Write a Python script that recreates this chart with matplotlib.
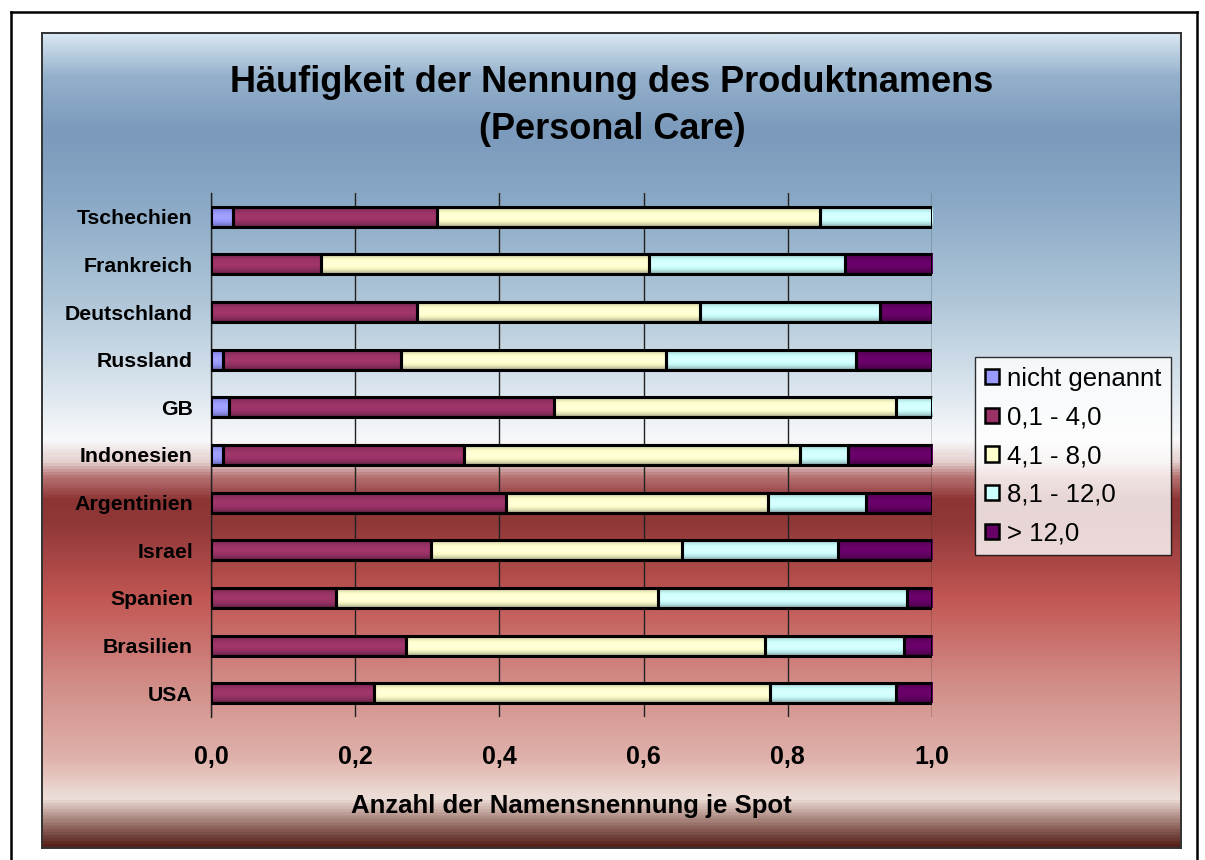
import numpy as np
import matplotlib
matplotlib.use("Agg")
import matplotlib.pyplot as plt
from matplotlib.colors import LinearSegmentedColormap, to_rgb
from matplotlib.lines import Line2D
from matplotlib.patches import Rectangle

plt.rcParams['font.family'] = ['Liberation Sans', 'DejaVu Sans']

countries = ["Tschechien", "Frankreich", "Deutschland", "Russland", "GB", "Indonesien",
             "Argentinien", "Israel", "Spanien", "Brasilien", "USA"]
series_names = ["nicht genannt", "0,1 - 4,0", "4,1 - 8,0", "8,1 - 12,0", "> 12,0"]
nicht_genannt = [0.031, 0.0, 0.0, 0.017, 0.025, 0.017, 0.0, 0.0, 0.0, 0.0, 0.0]
s_01_40 = [0.282, 0.152, 0.286, 0.247, 0.451, 0.334, 0.409, 0.305, 0.173, 0.270, 0.226]
s_41_80 = [0.531, 0.455, 0.392, 0.367, 0.474, 0.466, 0.364, 0.348, 0.447, 0.499, 0.549]
s_81_120 = [0.156, 0.272, 0.250, 0.264, 0.050, 0.066, 0.136, 0.216, 0.345, 0.192, 0.175]
s_gt_120 = [0.0, 0.121, 0.072, 0.105, 0.0, 0.117, 0.091, 0.131, 0.035, 0.039, 0.050]
series = [nicht_genannt, s_01_40, s_41_80, s_81_120, s_gt_120]
colors = ["#9999ff", "#993366", "#ffffcc", "#ccffff", "#660066"]
xticks = [0.0, 0.2, 0.4, 0.6, 0.8, 1.0]
xticklabels = ["0,0", "0,2", "0,4", "0,6", "0,8", "1,0"]

W, H = 1205, 860
fig = plt.figure(figsize=(W / 100, H / 100), dpi=100)
fig.patch.set_facecolor("white")

# outer border
for (x0, y0, x1, y1) in [(11, 12, 11, 860), (11, 12, 1197, 12), (1197, 12, 1197, 860)]:
    fig.add_artist(Line2D([x0 / W, x1 / W], [1 - y0 / H, 1 - y1 / H], color="black", lw=1.8))

# chart area gradient background
cx0, cy0, cx1, cy1 = 42, 33, 1181, 848
bg = fig.add_axes([cx0 / W, 1 - cy1 / H, (cx1 - cx0) / W, (cy1 - cy0) / H], zorder=-10)
stops = [(33, "#d8e6f1"), (75, "#93b0cb"), (130, "#7b9abc"), (200, "#8aa9c6"),
         (300, "#afc6d8"), (380, "#d6e2ec"), (440, "#f8f9fb"), (462, "#e4cfcd"),
         (478, "#b57070"), (500, "#8d3535"), (525, "#903838"), (600, "#c25754"),
         (680, "#d18a85"), (760, "#dfb2ab"), (800, "#eddfd8"), (812, "#c9aea6"),
         (830, "#8a6058"), (848, "#55211a")]
cmap = LinearSegmentedColormap.from_list(
    "bg", [((y - cy0) / (cy1 - cy0), c) for y, c in stops])
grad = np.linspace(0, 1, 800).reshape(-1, 1)
bg.imshow(grad, cmap=cmap, aspect="auto", extent=[0, 1, 1, 0])
bg.set_xlim(0, 1)
bg.set_ylim(1, 0)
bg.set_xticks([])
bg.set_yticks([])
for s in bg.spines.values():
    s.set_color("#333333")
    s.set_linewidth(1.4)

# main axes
px0, py0, px1, py1 = 211, 193, 932, 717
ax = fig.add_axes([px0 / W, 1 - py1 / H, (px1 - px0) / W, (py1 - py0) / H])
ax.set_facecolor("none")

ypos = np.arange(len(countries))
left = np.zeros(len(countries))
bar_h = 0.42
legend_handles = []
prof_t = np.linspace(0, 1, 40)
prof = 0.55 + 0.5 * np.sin(np.pi * prof_t) ** 0.6
for vals, col, name in zip(series, colors, series_names):
    vals = np.array(vals)
    bars = ax.barh(ypos, vals, left=left, height=bar_h, color="none",
                   edgecolor="black", linewidth=2.2, zorder=4, label=name)
    rgb = np.array(to_rgb(col))
    img = np.clip(rgb[None, :] * prof[:, None], 0, 1)[:, None, :]
    for p in bars.patches:
        if p.get_width() <= 0:
            p.set_visible(False)
            continue
        x0, y0 = p.get_x(), p.get_y()
        ax.imshow(img, extent=[x0, x0 + p.get_width(), y0 + p.get_height(), y0],
                  aspect="auto", zorder=3, interpolation="bilinear")
    left = left + vals
    legend_handles.append(Rectangle((0, 0), 1, 1, facecolor=col, edgecolor="black", linewidth=1.8))

ax.set_xlim(0, 1.0)
ax.set_ylim(len(countries) - 0.5, -0.5)
ax.set_aspect("auto")
ax.set_xticks(xticks)
ax.set_xticklabels(xticklabels, fontsize=18, fontweight="bold")
ax.set_yticks(ypos)
ax.set_yticklabels(countries, fontsize=15.3, fontweight="bold")
ax.tick_params(axis="x", length=0, pad=20)
ax.tick_params(axis="y", length=0, pad=13)
ax.grid(axis="x", color="#222222", linewidth=1.0, zorder=1)
ax.set_axisbelow(True)
for k in ["top", "right", "bottom"]:
    ax.spines[k].set_visible(False)
ax.spines["left"].set_color("#222222")
ax.spines["left"].set_linewidth(1.0)
ax.set_xlabel("Anzahl der Namensnennung je Spot", fontsize=18.5, fontweight="bold", labelpad=18)

fig.text(612 / W, 1 - 106 / H, "Häufigkeit der Nennung des Produktnamens\n(Personal Care)",
         ha="center", va="center", fontsize=26, fontweight="bold", linespacing=1.42)

leg = fig.legend(legend_handles, series_names, loc="upper left",
                 bbox_to_anchor=(975 / W, 1 - 357 / H), frameon=True, fancybox=False,
                 fontsize=18.5, handlelength=0.55, handleheight=0.55, handletextpad=0.3,
                 labelspacing=0.57, borderpad=0.38, borderaxespad=0)
leg.get_frame().set_edgecolor("black")
leg.get_frame().set_linewidth(1.0)

fig.savefig("out.png", dpi=100, facecolor="white")
